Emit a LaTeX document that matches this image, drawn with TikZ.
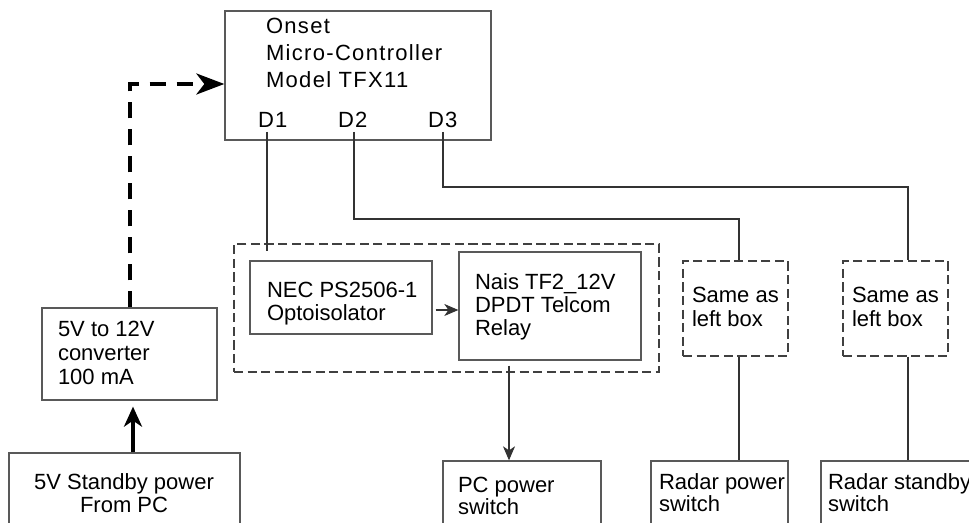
\documentclass[tikz,border=0pt]{standalone}
\usepackage{fontspec}
\setmainfont{Liberation Sans}
\newfontfamily\spacedfont[LetterSpace=6]{Liberation Sans}
\usetikzlibrary{arrows.meta,fit}
\newcommand\blocktext[3]{\fontsize{11}{#1}\selectfont\begin{tabular}[t]{@{}#2@{}}#3\end{tabular}}
\begin{document}
\begin{tikzpicture}[x=0.5pt,y=-0.5pt,
  box/.style={draw=black!65,line width=0.65pt,inner sep=0pt,rectangle},
  dbox/.style={draw=black!75,line width=0.55pt,inner sep=0pt,rectangle,dash pattern=on 4.6pt off 2.2pt},
  txt/.style={anchor=base west,inner sep=0pt,outer sep=0pt},
  ctxt/.style={anchor=base,inner sep=0pt,outer sep=0pt},
  wire/.style={draw=black!80,line width=0.55pt},
  thinarrow/.style={wire,-{Stealth[length=7pt,width=6pt,inset=2pt]}},
  thickarrow/.style={draw=black,line width=1.7pt,-{Stealth[length=10pt,width=9pt,inset=3pt]}},
  dasharrow/.style={draw=black,line width=1.8pt,dash pattern=on 8pt off 5.5pt,-{Stealth[length=14pt,width=10.5pt,inset=4pt]}}]
\clip (0,0) rectangle (969,523);
\fill[white] (0,0) rectangle (969,523);

% boxes
\node[box,fit={(225,11) (491,140)}] (mc) {};
\node[box,fit={(42,308) (217,400)}] (conv) {};
\node[box,fit={(9,453) (240,545)}] (stby) {};
\node[dbox,fit={(234,244) (659,372)}] (outer) {};
\node[box,fit={(250,261) (432,334)}] (nec) {};
\node[box,fit={(459,252) (641,360)}] (relay) {};
\node[dbox,fit={(683,261) (788,356)}] (same1) {};
\node[dbox,fit={(843,261) (948,356)}] (same2) {};
\node[box,fit={(443,461) (601,545)}] (pc) {};
\node[box,fit={(651,461) (788,545)}] (rp) {};
\node[box,fit={(821,461) (990,545)}] (rs) {};

% texts
\node[txt] (mct) at (266,34) {\spacedfont\blocktext{13.5pt}{l}{Onset\\Micro-Controller\\Model TFX11}};
\node[txt] (d1) at (258,128) {\spacedfont\fontsize{11}{13}\selectfont D1};
\node[txt] (d2) at (338,128) {\spacedfont\fontsize{11}{13}\selectfont D2};
\node[txt] (d3) at (428,128) {\spacedfont\fontsize{11}{13}\selectfont D3};
\node[txt] (convt) at (58,337) {\blocktext{12pt}{l}{5V to 12V\\converter\\100 mA}};
\node[ctxt] (stbyt) at (124,489) {\blocktext{11.7pt}{c}{5V Standby power\\From PC}};
\node[txt] (nect) at (267,298) {\blocktext{11.2pt}{l}{NEC PS2506-1\\Optoisolator}};
\node[txt] (relayt) at (475,290) {\blocktext{11.25pt}{l}{Nais TF2\_12V\\DPDT Telcom\\Relay}};
\node[txt] (same1t) at (692,303) {\blocktext{12pt}{l}{Same as\\left box}};
\node[txt] (same2t) at (852,303) {\blocktext{12pt}{l}{Same as\\left box}};
\node[txt] (pct) at (458,492) {\blocktext{11pt}{l}{PC power\\switch}};
\node[txt] (rpt) at (659,489) {\blocktext{11pt}{l}{Radar power\\switch}};
\node[txt] (rst) at (828,489) {\blocktext{11pt}{l}{Radar standby\\switch}};

% connector points
\coordinate (d1s) at (267,132);
\coordinate (d1e) at (267,251);
\coordinate (d2s) at (354,132);
\coordinate (d2c) at (739,219);
\coordinate (d3s) at (443,132);
\coordinate (d3c) at (908,187);

% connectors
\draw[wire] (d1s) -- (d1e);
\draw[wire] (d2s) |- (d2c) -- (d2c |- same1.north);
\draw[wire] (d3s) |- (d3c) -- (d3c |- same2.north);
\draw[wire] (d2c |- same1.south) -- (d2c |- rp.north);
\draw[wire] (d3c |- same2.south) -- (d3c |- rs.north);
\draw[thinarrow] ([xshift=1.5pt]nec.east |- 0,310) -- (relay.west |- 0,310);
\draw[thinarrow] ([yshift=-2.5pt]relay.south -| 509,0) -- (pc.north -| 509,0);
\draw[thickarrow] (stby.north -| 133,0) -- ([yshift=-3pt]conv.south -| 133,0);
\draw[dasharrow] (conv.north -| 130,0) |- (mc.west |- 0,84);
\end{tikzpicture}
\end{document}
